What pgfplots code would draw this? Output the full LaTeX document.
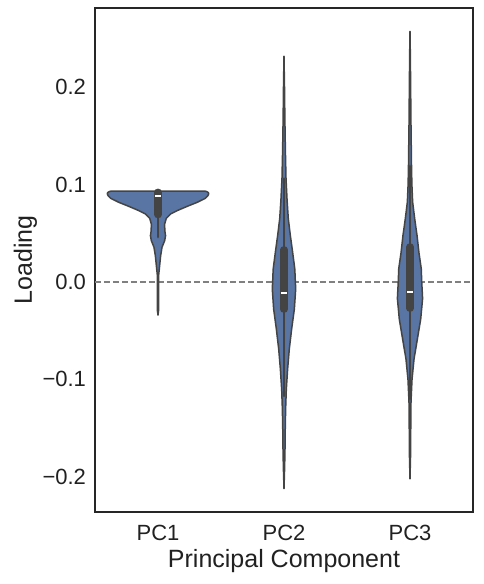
\documentclass[border=0pt]{standalone}
\usepackage{fontspec}
\setmainfont{Liberation Sans}
\usepackage{pgfplots}
\pgfplotsset{compat=1.18}
\definecolor{vfill}{HTML}{5875A4}
\definecolor{vline}{HTML}{444444}
\definecolor{frame}{HTML}{262626}

\begin{document}
\begin{tikzpicture}
\begin{axis}[
  width=378pt, height=504pt, scale only axis,
  xmin=-0.5, xmax=2.5, ymin=-0.236, ymax=0.281,
  xtick={0,1,2}, xticklabels={PC1,PC2,PC3},
  ytick={-0.2,-0.1,0,0.1,0.2},
  yticklabels={−0.2,−0.1,0.0,0.1,0.2},
  major tick length=0pt,
  tick label style={font=\fontsize{22}{25}\selectfont, text=black!87},
  xticklabel style={anchor=base, yshift=-28pt},
  yticklabel style={anchor=east, xshift=-5.5pt},
  label style={font=\fontsize{25}{29}\selectfont, text=black!87},
  xlabel={Principal Component}, ylabel={Loading},
  xlabel style={at={(axis description cs:0.5,-0.1105)}, anchor=base},
  ylabel style={at={(axis description cs:-0.1667,0.5)}, anchor=base},
  axis line style={draw=frame, line width=1.8pt},
]
\addplot[color=gray, line width=1.2pt, dash pattern=on 6pt off 3pt] coordinates {(-0.5,0) (2.5,0)};

% PC1 violin outline (right side up, left side down)
\addplot[fill=vfill, draw=vline, line width=1.5pt, line join=round] coordinates {
(0.000,-0.034) (0.004,-0.030) (0.004,0.000) (0.005,0.0065) (0.013,0.0167) (0.021,0.027)
(0.032,0.0356) (0.053,0.0424) (0.060,0.0475) (0.054,0.0526) (0.053,0.0595) (0.066,0.0653)
(0.100,0.0697) (0.153,0.0732) (0.233,0.0776) (0.312,0.0817) (0.376,0.0858) (0.396,0.0885)
(0.403,0.0905) (0.398,0.0918) (0.385,0.0928) (0.370,0.0932)
(-0.370,0.0932) (-0.385,0.0928) (-0.398,0.0918) (-0.403,0.0905) (-0.396,0.0885) (-0.376,0.0858)
(-0.312,0.0817) (-0.233,0.0776) (-0.153,0.0732) (-0.100,0.0697) (-0.066,0.0653) (-0.053,0.0595)
(-0.054,0.0526) (-0.060,0.0475) (-0.053,0.0424) (-0.032,0.0356) (-0.021,0.027) (-0.013,0.0167)
(-0.005,0.0065) (-0.004,0.000) (-0.004,-0.030) (0.000,-0.034)
} -- cycle;

% PC2 violin
\addplot[fill=vfill, draw=vline, line width=1.5pt, line join=round] coordinates {
(1.000,-0.212) (1.005,-0.190) (1.008,-0.171) (1.010,-0.150) (1.013,-0.130) (1.0185,-0.110)
(1.029,-0.089) (1.042,-0.069) (1.061,-0.048) (1.082,-0.028) (1.093,-0.007) (1.089,0.003)
(1.086,0.013) (1.069,0.030) (1.050,0.048) (1.034,0.065) (1.024,0.085) (1.016,0.106)
(1.011,0.135) (1.007,0.167) (1.004,0.200) (1.000,0.2315)
(0.996,0.200) (0.993,0.167) (0.989,0.135) (0.984,0.106) (0.976,0.085) (0.966,0.065)
(0.950,0.048) (0.931,0.030) (0.914,0.013) (0.911,0.003) (0.907,-0.007) (0.918,-0.028)
(0.939,-0.048) (0.958,-0.069) (0.971,-0.089) (0.9815,-0.110) (0.987,-0.130) (0.990,-0.150)
(0.992,-0.171) (0.995,-0.190) (1.000,-0.212)
} -- cycle;

% PC3 violin
\addplot[fill=vfill, draw=vline, line width=1.5pt, line join=round] coordinates {
(2.000,-0.202) (2.004,-0.180) (2.006,-0.150) (2.008,-0.123) (2.016,-0.100) (2.032,-0.079)
(2.058,-0.059) (2.085,-0.038) (2.100,-0.017) (2.092,0.003) (2.090,0.013) (2.071,0.030)
(2.056,0.0475) (2.037,0.065) (2.021,0.082) (2.015,0.100) (2.012,0.119) (2.008,0.160)
(2.005,0.201) (2.003,0.230) (2.000,0.257)
(1.997,0.230) (1.995,0.201) (1.992,0.160) (1.988,0.119) (1.985,0.100) (1.979,0.082)
(1.963,0.065) (1.944,0.0475) (1.929,0.030) (1.910,0.013) (1.908,0.003) (1.900,-0.017)
(1.915,-0.038) (1.942,-0.059) (1.968,-0.079) (1.984,-0.100) (1.992,-0.123) (1.994,-0.150)
(1.996,-0.180) (2.000,-0.202)
} -- cycle;

% inner boxes: whiskers
\addplot[vline, line width=2.5pt, line cap=round] coordinates {(0,0.046) (0,0.0925)};
\addplot[vline, line width=2.5pt, line cap=round] coordinates {(1,-0.117) (1,0.106)};
\addplot[vline, line width=2.5pt, line cap=round] coordinates {(2,-0.120) (2,0.119)};
% boxes (Q1-Q3)
\addplot[vline, line width=7.3pt, line cap=round] coordinates {(0,0.069) (0,0.092)};
\addplot[vline, line width=7.3pt, line cap=round] coordinates {(1,-0.028) (1,0.033)};
\addplot[vline, line width=7.3pt, line cap=round] coordinates {(2,-0.027) (2,0.036)};
% medians
\addplot[white, line width=2.3pt] coordinates {(-0.024,0.088) (0.024,0.088)};
\addplot[white, line width=2.3pt] coordinates {(0.976,-0.011) (1.024,-0.011)};
\addplot[white, line width=2.3pt] coordinates {(1.976,-0.010) (2.024,-0.010)};
\end{axis}
\pgfresetboundingbox
\useasboundingbox (-95pt,-72pt) rectangle (389pt,512pt);
\end{tikzpicture}
\end{document}
